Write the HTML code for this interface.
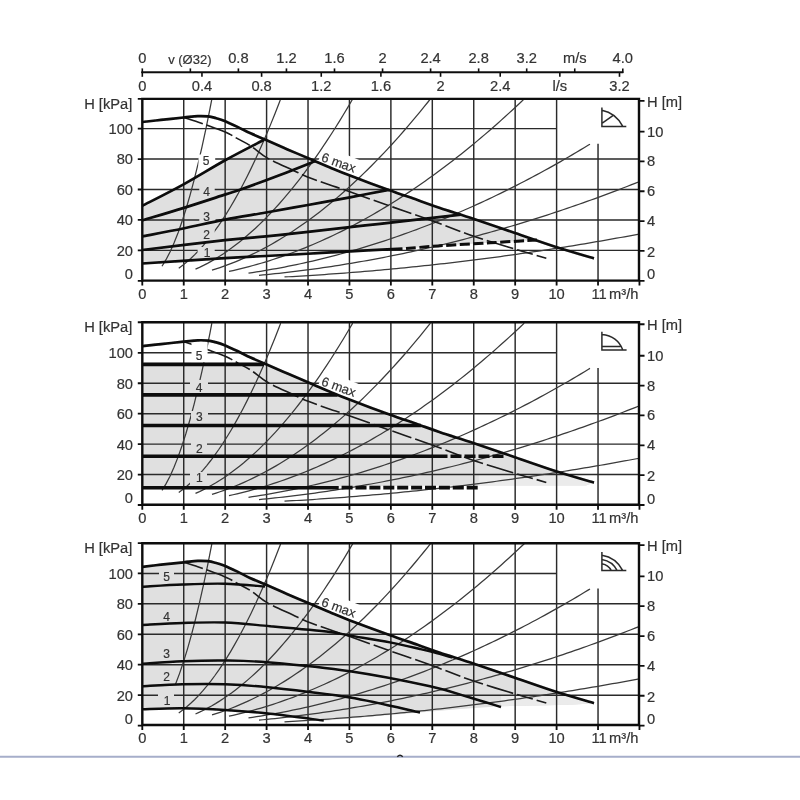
<!DOCTYPE html>
<html><head><meta charset="utf-8"><title>Pump curves</title>
<style>html,body{margin:0;padding:0;background:#fff;}body{width:800px;height:800px;overflow:hidden;}svg{display:block;}text{font-family:"Liberation Sans",sans-serif;fill:#333;stroke:#333;stroke-width:0.2px;}</style>
</head><body>
<svg width="800" height="800" viewBox="0 0 800 800">
<defs><filter id="soft" x="0" y="0" width="800" height="800" filterUnits="userSpaceOnUse"><feGaussianBlur stdDeviation="0.5"/></filter></defs>
<rect x="0" y="0" width="800" height="800" fill="#fff"/>
<g filter="url(#soft)">
<g id="topaxis">
<line x1="141.3" y1="72.3" x2="623.3" y2="72.3" stroke="#111" stroke-width="2"/>
<line x1="142.3" y1="68.4" x2="142.3" y2="73" stroke="#111" stroke-width="1.6"/>
<line x1="190.35" y1="68.4" x2="190.35" y2="73" stroke="#111" stroke-width="1.6"/>
<line x1="238.4" y1="68.4" x2="238.4" y2="73" stroke="#111" stroke-width="1.6"/>
<line x1="286.45" y1="68.4" x2="286.45" y2="73" stroke="#111" stroke-width="1.6"/>
<line x1="334.5" y1="68.4" x2="334.5" y2="73" stroke="#111" stroke-width="1.6"/>
<line x1="382.55" y1="68.4" x2="382.55" y2="73" stroke="#111" stroke-width="1.6"/>
<line x1="430.6" y1="68.4" x2="430.6" y2="73" stroke="#111" stroke-width="1.6"/>
<line x1="478.65" y1="68.4" x2="478.65" y2="73" stroke="#111" stroke-width="1.6"/>
<line x1="526.7" y1="68.4" x2="526.7" y2="73" stroke="#111" stroke-width="1.6"/>
<line x1="574.75" y1="68.4" x2="574.75" y2="73" stroke="#111" stroke-width="1.6"/>
<line x1="622.8" y1="68.4" x2="622.8" y2="73" stroke="#111" stroke-width="1.6"/>
<line x1="142.3" y1="72" x2="142.3" y2="76.8" stroke="#111" stroke-width="1.6"/>
<line x1="201.95" y1="72" x2="201.95" y2="76.8" stroke="#111" stroke-width="1.6"/>
<line x1="261.6" y1="72" x2="261.6" y2="76.8" stroke="#111" stroke-width="1.6"/>
<line x1="321.25" y1="72" x2="321.25" y2="76.8" stroke="#111" stroke-width="1.6"/>
<line x1="380.9" y1="72" x2="380.9" y2="76.8" stroke="#111" stroke-width="1.6"/>
<line x1="440.55" y1="72" x2="440.55" y2="76.8" stroke="#111" stroke-width="1.6"/>
<line x1="500.2" y1="72" x2="500.2" y2="76.8" stroke="#111" stroke-width="1.6"/>
<line x1="559.85" y1="72" x2="559.85" y2="76.8" stroke="#111" stroke-width="1.6"/>
<line x1="619.5" y1="72" x2="619.5" y2="76.8" stroke="#111" stroke-width="1.6"/>
<text x="142.3" y="63.4" font-size="14.7" text-anchor="middle">0</text>
<text x="189.85" y="63.6" font-size="13" text-anchor="middle">v (&#216;32)</text>
<text x="238.4" y="63.4" font-size="14.7" text-anchor="middle">0.8</text>
<text x="286.45" y="63.4" font-size="14.7" text-anchor="middle">1.2</text>
<text x="334.5" y="63.4" font-size="14.7" text-anchor="middle">1.6</text>
<text x="382.55" y="63.4" font-size="14.7" text-anchor="middle">2</text>
<text x="430.6" y="63.4" font-size="14.7" text-anchor="middle">2.4</text>
<text x="478.65" y="63.4" font-size="14.7" text-anchor="middle">2.8</text>
<text x="526.7" y="63.4" font-size="14.7" text-anchor="middle">3.2</text>
<text x="574.75" y="63.4" font-size="14.7" text-anchor="middle">m/s</text>
<text x="622.8" y="63.4" font-size="14.7" text-anchor="middle">4.0</text>
<text x="142.3" y="90.6" font-size="14.7" text-anchor="middle">0</text>
<text x="201.95" y="90.6" font-size="14.7" text-anchor="middle">0.4</text>
<text x="261.6" y="90.6" font-size="14.7" text-anchor="middle">0.8</text>
<text x="321.25" y="90.6" font-size="14.7" text-anchor="middle">1.2</text>
<text x="380.9" y="90.6" font-size="14.7" text-anchor="middle">1.6</text>
<text x="440.55" y="90.6" font-size="14.7" text-anchor="middle">2</text>
<text x="500.2" y="90.6" font-size="14.7" text-anchor="middle">2.4</text>
<text x="559.85" y="90.6" font-size="14.7" text-anchor="middle">l/s</text>
<text x="619.5" y="90.6" font-size="14.7" text-anchor="middle">3.2</text>
</g>
<g id="chart1">
<polygon points="142.3,205.8 144.27,204.79 146.72,203.53 149.59,202.07 152.81,200.43 156.32,198.64 160.04,196.74 163.91,194.75 167.86,192.7 171.82,190.64 175.73,188.58 179.51,186.55 183.1,184.6 186.6,182.65 190.14,180.64 193.71,178.58 197.3,176.48 200.91,174.36 204.52,172.22 208.11,170.1 211.69,167.99 215.24,165.91 218.75,163.87 222.21,161.9 225.6,160 229.05,158.11 232.65,156.17 236.34,154.21 240.05,152.25 243.74,150.33 247.33,148.46 250.78,146.68 254.02,145.01 257,143.49 259.65,142.12 261.92,140.95 263.75,140 265,139.5 266.6,140.2 268.29,140.94 270.04,141.71 271.85,142.51 273.72,143.34 275.62,144.19 277.57,145.05 279.54,145.92 281.52,146.79 283.52,147.67 285.51,148.54 287.5,149.4 289.52,150.27 291.61,151.16 293.75,152.07 295.93,153 298.12,153.92 300.31,154.85 302.49,155.77 304.63,156.67 306.72,157.55 308.74,158.4 310.67,159.22 312.5,160 314.21,160.73 315.82,161.42 317.34,162.08 318.8,162.71 320.2,163.31 321.56,163.91 322.91,164.49 324.26,165.07 325.62,165.66 327.03,166.25 328.48,166.86 330,167.5 331.52,168.13 332.97,168.74 334.38,169.34 335.79,169.92 337.21,170.51 338.67,171.12 340.21,171.75 341.85,172.41 343.62,173.12 345.55,173.88 347.67,174.7 350,175.6 352.6,176.59 355.49,177.69 358.6,178.86 361.9,180.1 365.32,181.38 368.83,182.68 372.36,183.99 375.88,185.29 379.33,186.56 382.65,187.78 385.81,188.93 388.75,190 391.52,190.99 394.19,191.94 396.79,192.86 399.31,193.73 401.75,194.58 404.14,195.4 406.47,196.2 408.75,196.98 410.99,197.74 413.19,198.5 415.35,199.25 417.5,200 419.56,200.73 421.48,201.41 423.29,202.07 425.04,202.7 426.74,203.32 428.42,203.94 430.13,204.56 431.88,205.19 433.71,205.84 435.66,206.52 437.74,207.23 440,208 442.41,208.8 444.92,209.62 447.53,210.47 450.22,211.33 453,212.22 455.84,213.12 458.75,214.05 461.72,215 464.74,215.97 467.8,216.96 470.88,217.97 474,219 477.17,220.06 480.43,221.16 483.76,222.29 487.15,223.44 490.59,224.62 494.06,225.81 497.56,227.01 501.07,228.22 504.59,229.43 508.09,230.63 511.56,231.82 515,233 518.43,234.17 521.87,235.36 525.32,236.56 528.78,237.76 532.24,238.96 535.69,240.16 537,240 534.74,240.13 531.92,240.3 528.62,240.5 524.93,240.72 520.9,240.96 516.62,241.21 512.18,241.48 507.63,241.75 503.06,242.02 498.55,242.29 494.17,242.55 490,242.8 485.9,243.04 481.7,243.29 477.42,243.54 473.09,243.79 468.75,244.05 464.41,244.3 460.1,244.55 455.85,244.81 451.69,245.06 447.64,245.31 443.74,245.56 440,245.8 436.49,246.04 433.2,246.28 430.1,246.52 427.13,246.75 424.25,246.99 421.41,247.22 418.56,247.45 415.65,247.68 412.64,247.91 409.47,248.14 406.11,248.37 402.5,248.6 398.62,248.83 394.5,249.06 390.18,249.29 385.72,249.52 381.16,249.74 376.53,249.97 371.89,250.2 367.28,250.42 362.74,250.64 358.32,250.87 354.06,251.08 350,251.3 346.13,251.51 342.39,251.73 338.76,251.93 335.22,252.14 331.76,252.35 328.34,252.55 324.97,252.76 321.61,252.96 318.25,253.16 314.88,253.36 311.47,253.55 308,253.75 304.5,253.94 300.99,254.14 297.48,254.33 293.96,254.52 290.45,254.71 286.94,254.9 283.43,255.08 279.93,255.27 276.43,255.45 272.94,255.64 269.46,255.82 266,256 262.68,256.17 259.59,256.32 256.66,256.46 253.8,256.59 250.96,256.72 248.04,256.85 244.99,257 241.72,257.16 238.16,257.35 234.23,257.56 229.87,257.81 225,258.1 219.31,258.45 212.67,258.87 205.32,259.34 197.46,259.86 189.31,260.39 181.09,260.93 173.01,261.47 165.29,261.98 158.14,262.45 151.78,262.87 146.43,263.23 142.3,263.5" fill="#e0e0e0"/>
<path d="M183.73 98.9 V280.6 M225.16 98.9 V280.6 M266.59 98.9 V280.6 M308.02 98.9 V280.6 M349.45 98.9 V280.6 M390.88 98.9 V280.6 M432.31 98.9 V280.6 M473.74 98.9 V280.6 M515.17 98.9 V280.6 M556.6 98.9 V280.6 M598.03 143.75 V280.6 M142.3 250.36 H639 M142.3 219.92 H639 M142.3 189.48 H639 M142.3 159.04 H639 M142.3 128.6 H556.6" stroke="#2a2a2a" stroke-width="1.45" fill="none"/>
<polyline points="162,266.22 166,259.69 170,251.97 174,243.04 178,232.91 182,221.57 186,209.04 190,195.3 194,180.36 198,164.22 202,146.87 206,128.32 210,108.57 211.87,98.9" stroke="#3a3a3a" stroke-width="1.25" fill="none"/>
<polyline points="178.75,268.18 182.75,265.26 186.75,262.04 190.75,258.51 194.75,254.68 198.75,250.54 202.75,246.1 206.75,241.35 210.75,236.31 214.75,230.95 218.75,225.3 222.75,219.34 226.75,213.07 230.75,206.51 234.75,199.63 238.75,192.46 242.75,184.98 246.75,177.2 250.75,169.11 254.75,160.72 258.75,152.02 262.75,143.02 266.75,133.72 270.75,124.12 274.75,114.21 278.75,103.99 280.7,98.9" stroke="#3a3a3a" stroke-width="1.25" fill="none"/>
<polyline points="195.5,269.18 199.5,267.36 203.5,265.42 207.5,263.34 211.5,261.13 215.5,258.79 219.5,256.32 223.5,253.72 227.5,250.98 231.5,248.12 235.5,245.12 239.5,241.99 243.5,238.74 247.5,235.34 251.5,231.82 255.5,228.17 259.5,224.38 263.5,220.47 267.5,216.42 271.5,212.24 275.5,207.93 279.5,203.48 283.5,198.91 287.5,194.21 291.5,189.37 295.5,184.4 299.5,179.3 303.5,174.07 307.5,168.71 311.5,163.21 315.5,157.59 319.5,151.83 323.5,145.94 327.5,139.92 331.5,133.77 335.5,127.49 339.5,121.07 343.5,114.53 347.5,107.85 351.5,101.04 352.74,98.9" stroke="#3a3a3a" stroke-width="1.25" fill="none"/>
<polyline points="212,270.16 216,268.9 220,267.57 224,266.18 228,264.71 232,263.17 236,261.57 240,259.89 244,258.14 248,256.33 252,254.44 256,252.48 260,250.45 264,248.36 268,246.19 272,243.95 276,241.64 280,239.26 284,236.82 288,234.3 292,231.71 296,229.05 300,226.32 304,223.52 308,220.65 312,217.72 316,214.71 320,211.63 324,208.48 328,205.26 332,201.97 336,198.61 340,195.18 344,191.68 348,188.11 352,184.47 356,180.76 360,176.98 364,173.13 368,169.21 372,165.22 376,161.16 380,157.03 384,152.83 388,148.56 392,144.22 396,139.81 400,135.33 404,130.77 408,126.15 412,121.46 416,116.7 420,111.87 424,106.97 428,102 430.46,98.9" stroke="#3a3a3a" stroke-width="1.25" fill="none"/>
<polyline points="229,271.43 233,270.54 237,269.62 241,268.65 245,267.65 249,266.61 253,265.52 257,264.4 261,263.23 265,262.03 269,260.79 273,259.5 277,258.18 281,256.82 285,255.41 289,253.97 293,252.49 297,250.96 301,249.4 305,247.8 309,246.15 313,244.47 317,242.75 321,240.99 325,239.18 329,237.34 333,235.46 337,233.54 341,231.58 345,229.57 349,227.53 353,225.45 357,223.33 361,221.17 365,218.97 369,216.73 373,214.44 377,212.12 381,209.76 385,207.36 389,204.92 393,202.44 397,199.92 401,197.36 405,194.76 409,192.12 413,189.44 417,186.72 421,183.96 425,181.16 429,178.32 433,175.44 437,172.52 441,169.56 445,166.56 449,163.52 453,160.44 457,157.33 461,154.17 465,150.97 469,147.73 473,144.45 477,141.13 481,137.77 485,134.38 489,130.94 493,127.46 497,123.94 501,120.38 505,116.79 509,113.15 513,109.47 517,105.75 521,102 524.27,98.9" stroke="#3a3a3a" stroke-width="1.25" fill="none"/>
<polyline points="248.5,273.11 252.5,272.52 256.5,271.91 260.5,271.28 264.5,270.62 268.5,269.94 272.5,269.24 276.5,268.52 280.5,267.78 284.5,267.02 288.5,266.23 292.5,265.42 296.5,264.59 300.5,263.74 304.5,262.87 308.5,261.97 312.5,261.05 316.5,260.12 320.5,259.15 324.5,258.17 328.5,257.17 332.5,256.14 336.5,255.09 340.5,254.02 344.5,252.93 348.5,251.82 352.5,250.68 356.5,249.53 360.5,248.35 364.5,247.15 368.5,245.92 372.5,244.68 376.5,243.41 380.5,242.12 384.5,240.81 388.5,239.48 392.5,238.13 396.5,236.75 400.5,235.36 404.5,233.94 408.5,232.5 412.5,231.03 416.5,229.55 420.5,228.04 424.5,226.52 428.5,224.97 432.5,223.39 436.5,221.8 440.5,220.19 444.5,218.55 448.5,216.89 452.5,215.21 456.5,213.51 460.5,211.78 464.5,210.04 468.5,208.27 472.5,206.48 476.5,204.67 480.5,202.83 484.5,200.98 488.5,199.1 492.5,197.2 496.5,195.28 500.5,193.34 504.5,191.38 508.5,189.39 512.5,187.38 516.5,185.35 520.5,183.3 524.5,181.23 528.5,179.13 532.5,177.02 536.5,174.88 540.5,172.72 544.5,170.53 548.5,168.33 552.5,166.1 556.5,163.86 560.5,161.59 564.5,159.3 568.5,156.98 572.5,154.65 576.5,152.29 580.5,149.91 584.5,147.51 588.5,145.09 590,144.17" stroke="#3a3a3a" stroke-width="1.25" fill="none"/>
<polyline points="259,275.33 263,274.95 267,274.56 271,274.15 275,273.73 279,273.3 283,272.85 287,272.4 291,271.92 295,271.44 299,270.94 303,270.43 307,269.91 311,269.38 315,268.83 319,268.27 323,267.69 327,267.11 331,266.51 335,265.89 339,265.27 343,264.63 347,263.98 351,263.32 355,262.64 359,261.95 363,261.25 367,260.53 371,259.8 375,259.06 379,258.31 383,257.54 387,256.76 391,255.97 395,255.17 399,254.35 403,253.52 407,252.67 411,251.82 415,250.95 419,250.07 423,249.17 427,248.26 431,247.34 435,246.41 439,245.46 443,244.5 447,243.53 451,242.55 455,241.55 459,240.54 463,239.52 467,238.48 471,237.43 475,236.37 479,235.29 483,234.21 487,233.11 491,231.99 495,230.87 499,229.73 503,228.57 507,227.41 511,226.23 515,225.04 519,223.84 523,222.62 527,221.39 531,220.15 535,218.9 539,217.63 543,216.35 547,215.06 551,213.75 555,212.43 559,211.1 563,209.75 567,208.4 571,207.03 575,205.64 579,204.25 583,202.84 587,201.42 591,199.98 595,198.54 599,197.08 603,195.6 607,194.12 611,192.62 615,191.11 619,189.58 623,188.04 627,186.49 631,184.93 635,183.36 639,181.77" stroke="#3a3a3a" stroke-width="1.25" fill="none"/>
<polyline points="284.5,276.97 288.5,276.75 292.5,276.53 296.5,276.3 300.5,276.06 304.5,275.82 308.5,275.57 312.5,275.32 316.5,275.05 320.5,274.79 324.5,274.51 328.5,274.24 332.5,273.95 336.5,273.66 340.5,273.36 344.5,273.06 348.5,272.75 352.5,272.43 356.5,272.11 360.5,271.79 364.5,271.45 368.5,271.11 372.5,270.77 376.5,270.41 380.5,270.06 384.5,269.69 388.5,269.32 392.5,268.95 396.5,268.56 400.5,268.18 404.5,267.78 408.5,267.38 412.5,266.98 416.5,266.56 420.5,266.15 424.5,265.72 428.5,265.29 432.5,264.85 436.5,264.41 440.5,263.96 444.5,263.51 448.5,263.05 452.5,262.58 456.5,262.11 460.5,261.63 464.5,261.14 468.5,260.65 472.5,260.16 476.5,259.65 480.5,259.14 484.5,258.63 488.5,258.11 492.5,257.58 496.5,257.05 500.5,256.51 504.5,255.96 508.5,255.41 512.5,254.85 516.5,254.29 520.5,253.72 524.5,253.14 528.5,252.56 532.5,251.97 536.5,251.38 540.5,250.78 544.5,250.17 548.5,249.56 552.5,248.94 556.5,248.32 560.5,247.69 564.5,247.05 568.5,246.41 572.5,245.76 576.5,245.1 580.5,244.44 584.5,243.78 588.5,243.1 592.5,242.42 596.5,241.74 600.5,241.05 604.5,240.35 608.5,239.65 612.5,238.94 616.5,238.22 620.5,237.5 624.5,236.77 628.5,236.04 632.5,235.3 636.5,234.56 639,234.09" stroke="#3a3a3a" stroke-width="1.25" fill="none"/>
<path d="M183.75 117.5 C186.08 118.23 193.38 120.44 197.75 121.9 C202.12 123.36 205.62 124.63 210 126.25 C214.38 127.87 220.67 130.24 224 131.6 C227.33 132.96 227.67 133.18 230 134.4 C232.33 135.62 234.46 136.93 238 138.9 C241.54 140.88 246.33 143.05 251.25 146.25 C256.17 149.45 260.62 154.14 267.5 158.1 C274.38 162.06 285.83 166.87 292.5 170 C299.17 173.13 301.25 174.4 307.5 176.9 C313.75 179.4 323.75 182.82 330 185 C336.25 187.18 335.5 186.67 345 190 C354.5 193.33 372.83 200 387 205 C401.17 210 416.17 215 430 220 C443.83 225 457 230.5 470 235 C483 239.5 495.28 243.13 508 247 C520.72 250.87 539.92 256.33 546.3 258.2" stroke="#1a1a1a" stroke-width="1.6" fill="none" stroke-dasharray="20 4 28 4 16 4"/>
<rect x="198.5" y="154.5" width="16.7" height="13.5" fill="#fff"/>
<rect x="199.3" y="185" width="15.4" height="13.2" fill="#e0e0e0"/>
<rect x="199.3" y="210" width="16.2" height="12.5" fill="#e0e0e0"/>
<rect x="199" y="228.6" width="15.7" height="13.2" fill="#e0e0e0"/>
<rect x="197.6" y="247" width="17.1" height="13" fill="#e0e0e0"/>
<path d="M142.3 205.8 C149.1 202.27 169.22 192.23 183.1 184.6 C196.98 176.97 212.16 167.43 225.6 160 C239.04 152.57 257.39 143.33 263.75 140" stroke="#0a0a0a" fill="none" stroke-linecap="butt" stroke-width="2.7"/>
<path d="M142.3 220.4 C149.1 218.35 169.22 212.43 183.1 208.1 C196.98 203.77 216.12 197.46 225.6 194.4 C235.08 191.34 230.93 192.98 240 189.75 C249.07 186.52 267.33 179.83 280 175 C292.67 170.17 310 163.12 316 160.75" stroke="#0a0a0a" fill="none" stroke-linecap="butt" stroke-width="2.7"/>
<path d="M142.3 236.4 C149.1 235.08 169.32 231.3 183.1 228.5 C196.88 225.7 211.18 222.27 225 219.6 C238.82 216.93 252.17 214.93 266 212.5 C279.83 210.07 294 207.53 308 205 C322 202.47 336.54 199.82 350 197.3 C363.46 194.78 382.29 191.13 388.75 189.9" stroke="#0a0a0a" fill="none" stroke-linecap="butt" stroke-width="2.7"/>
<path d="M142.3 250 C156.08 248.37 204.38 242.48 225 240.2 C245.62 237.92 252.17 237.68 266 236.3 C279.83 234.92 289 233.98 308 231.9 C327 229.82 354.5 226.68 380 223.8 C405.5 220.92 447.5 216.13 461 214.6" stroke="#0a0a0a" fill="none" stroke-linecap="butt" stroke-width="2.7"/>
<path d="M142.3 263.5 C156.08 262.6 204.38 259.35 225 258.1 C245.62 256.85 252.17 256.73 266 256 C279.83 255.28 294 254.53 308 253.75 C322 252.97 334.25 252.16 350 251.3 C365.75 250.44 393.75 249.05 402.5 248.6" stroke="#0a0a0a" fill="none" stroke-linecap="butt" stroke-width="2.7"/>
<path d="M406 248.5 C411.67 248.05 426 246.75 440 245.8 C454 244.85 473.83 243.77 490 242.8 C506.17 241.83 529.17 240.47 537 240" stroke="#0a0a0a" fill="none" stroke-linecap="butt" stroke-width="3" stroke-dasharray="10 3.5"/>
<g transform="translate(318,161.6) rotate(22)"><rect x="0" y="-17" width="41" height="17.5" fill="#fff"/></g>
<path d="M142.3 122 C145.42 121.65 154.09 120.65 161 119.9 C167.91 119.15 177.62 118.13 183.75 117.5 C189.88 116.87 193.67 116.28 197.75 116.1 C201.83 115.92 205.33 116.1 208.25 116.4 C211.17 116.7 212.62 117.18 215.25 117.9 C217.88 118.62 220.21 119.17 224 120.7 C227.79 122.23 233.67 125.03 238 127.1 C242.33 129.17 245.5 131.03 250 133.1 C254.5 135.17 258.75 136.78 265 139.5 C271.25 142.22 279.58 145.98 287.5 149.4 C295.42 152.82 305.42 156.98 312.5 160 C319.58 163.02 323.75 164.9 330 167.5 C336.25 170.1 340.21 171.85 350 175.6 C359.79 179.35 377.5 185.93 388.75 190 C400 194.07 408.96 197 417.5 200 C426.04 203 430.58 204.83 440 208 C449.42 211.17 461.5 214.83 474 219 C486.5 223.17 501.33 228.33 515 233 C528.67 237.67 542.83 242.77 556 247 C569.17 251.23 587.67 256.5 594 258.4" stroke="#0a0a0a" fill="none" stroke-linecap="butt" stroke-width="2.7"/>
<g transform="translate(320.5,160.7) rotate(20)"><text x="0" y="0" font-size="13" text-anchor="start" stroke="#333" stroke-width="0.25">6 max</text></g>
<text x="206.1" y="165.3" font-size="12" text-anchor="middle" fill="#2a2a2a" stroke="#2a2a2a" stroke-width="0.5">5</text>
<text x="206.6" y="195.6" font-size="12" text-anchor="middle" fill="#2a2a2a" stroke="#2a2a2a" stroke-width="0.5">4</text>
<text x="206.6" y="220.6" font-size="12" text-anchor="middle" fill="#2a2a2a" stroke="#2a2a2a" stroke-width="0.5">3</text>
<text x="206.6" y="239.2" font-size="12" text-anchor="middle" fill="#2a2a2a" stroke="#2a2a2a" stroke-width="0.5">2</text>
<text x="207" y="257.3" font-size="12" text-anchor="middle" fill="#2a2a2a" stroke="#2a2a2a" stroke-width="0.5">1</text>
<path d="M142.3 98.9 H639 V280.6 H142.3 Z" stroke="#0a0a0a" stroke-width="2.4" fill="none"/>
<path d="M137.8 98.9 H142.3 M137.8 280.8 H142.3 M137.8 250.36 H142.3 M137.8 219.92 H142.3 M137.8 189.48 H142.3 M137.8 159.04 H142.3 M137.8 128.6 H142.3 M639 100.9 H644.5 M639 280.8 H644.5 M639 250.95 H644.5 M639 221.09 H644.5 M639 191.24 H644.5 M639 161.39 H644.5 M639 131.54 H644.5 M142.3 280.6 V285.6 M183.73 280.6 V285.6 M225.16 280.6 V285.6 M266.59 280.6 V285.6 M308.02 280.6 V285.6 M349.45 280.6 V285.6 M390.88 280.6 V285.6 M432.31 280.6 V285.6 M473.74 280.6 V285.6 M515.17 280.6 V285.6 M556.6 280.6 V285.6 M598.03 280.6 V285.6 M639.46 280.6 V285.6" stroke="#0a0a0a" stroke-width="1.8" fill="none"/>
<text x="132.3" y="108.8" font-size="14.7" text-anchor="end">H [kPa]</text>
<text x="133" y="255.76" font-size="14.7" text-anchor="end">20</text>
<text x="133" y="225.32" font-size="14.7" text-anchor="end">40</text>
<text x="133" y="194.88" font-size="14.7" text-anchor="end">60</text>
<text x="133" y="164.44" font-size="14.7" text-anchor="end">80</text>
<text x="133" y="134" font-size="14.7" text-anchor="end">100</text>
<text x="133" y="279.1" font-size="14.7" text-anchor="end">0</text>
<text x="647" y="106.9" font-size="14.7" text-anchor="start">H [m]</text>
<text x="647" y="257.15" font-size="14.7" text-anchor="start">2</text>
<text x="647" y="226.09" font-size="14.7" text-anchor="start">4</text>
<text x="647" y="196.24" font-size="14.7" text-anchor="start">6</text>
<text x="647" y="166.39" font-size="14.7" text-anchor="start">8</text>
<text x="647" y="136.54" font-size="14.7" text-anchor="start">10</text>
<text x="647" y="279.4" font-size="14.7" text-anchor="start">0</text>
<text x="142.3" y="298.7" font-size="14.7" text-anchor="middle">0</text>
<text x="183.73" y="298.7" font-size="14.7" text-anchor="middle">1</text>
<text x="225.16" y="298.7" font-size="14.7" text-anchor="middle">2</text>
<text x="266.59" y="298.7" font-size="14.7" text-anchor="middle">3</text>
<text x="308.02" y="298.7" font-size="14.7" text-anchor="middle">4</text>
<text x="349.45" y="298.7" font-size="14.7" text-anchor="middle">5</text>
<text x="390.88" y="298.7" font-size="14.7" text-anchor="middle">6</text>
<text x="432.31" y="298.7" font-size="14.7" text-anchor="middle">7</text>
<text x="473.74" y="298.7" font-size="14.7" text-anchor="middle">8</text>
<text x="515.17" y="298.7" font-size="14.7" text-anchor="middle">9</text>
<text x="556.6" y="298.7" font-size="14.7" text-anchor="middle">10</text>
<text x="591.5" y="298.7" font-size="14.7" text-anchor="start">11</text>
<text x="609" y="298.7" font-size="14.7" text-anchor="start">m&#179;/h</text>
<path d="M601.9 107.4 V126.4 H626.3 M601.9 110.3 Q615.5 112.8 622.8 126.4 M601.9 123.4 L613.6 115.2" stroke="#2a2a2a" stroke-width="1.5" fill="none"/>
</g>
<g id="chart2">
<polygon points="142.3,364.4 262,364.4 262.03,362.43 263.48,363.04 265,363.7 266.6,364.4 268.29,365.14 270.04,365.91 271.85,366.71 273.72,367.54 275.62,368.39 277.57,369.25 279.54,370.12 281.52,370.99 283.52,371.87 285.51,372.74 287.5,373.6 289.52,374.47 291.61,375.36 293.75,376.27 295.93,377.2 298.12,378.12 300.31,379.05 302.49,379.97 304.63,380.87 306.72,381.75 308.74,382.6 310.67,383.42 312.5,384.2 314.21,384.93 315.82,385.62 317.34,386.28 318.8,386.91 320.2,387.51 321.56,388.11 322.91,388.69 324.26,389.27 325.62,389.86 327.03,390.45 328.48,391.06 330,391.7 331.52,392.33 332.97,392.94 334.38,393.54 335.79,394.12 337.21,394.71 338.67,395.32 340.21,395.95 341.85,396.61 343.62,397.32 345.55,398.08 347.67,398.9 350,399.8 352.6,400.79 355.49,401.89 358.6,403.06 361.9,404.3 365.32,405.58 368.83,406.88 372.36,408.19 375.88,409.49 379.33,410.76 382.65,411.98 385.81,413.13 388.75,414.2 391.52,415.19 394.19,416.14 396.79,417.06 399.31,417.93 401.75,418.78 404.14,419.6 406.47,420.4 408.75,421.18 410.99,421.94 413.19,422.7 415.35,423.45 417.5,424.2 419.56,424.93 421.48,425.61 423.29,426.27 425.04,426.9 426.74,427.52 428.42,428.14 430.13,428.76 431.88,429.39 433.71,430.04 435.66,430.72 437.74,431.43 440,432.2 442.41,433 444.92,433.82 447.53,434.67 450.22,435.53 453,436.42 455.84,437.32 458.75,438.25 461.72,439.2 464.74,440.17 467.8,441.16 470.88,442.17 474,443.2 477.17,444.26 480.43,445.36 483.76,446.49 487.15,447.64 490.59,448.82 494.06,450.01 497.56,451.21 501.07,452.42 504.59,453.63 508.09,454.83 511.56,456.02 515,457.2 518.43,458.37 521.87,459.56 525.32,460.76 528.78,461.96 532.24,463.16 535.69,464.36 539.13,465.55 542.56,466.73 545.96,467.88 549.34,469.02 552.69,470.12 556,471.2 559.39,472.28 562.95,473.38 566.6,474.5 570.3,475.61 573.97,476.71 577.56,477.77 581.01,478.79 584.26,479.74 587.24,480.61 589.9,481.39 592.17,482.06 594,482.6 586,485.4 470,485.4 142.3,487.7" fill="#e0e0e0"/>
<polygon points="478.7,474.8 567.5,474.8 594,482.6 586,485.4 478.7,485.4" fill="#ebebeb"/>
<path d="M183.73 322.25 V504.75 M225.16 322.25 V504.75 M266.59 322.25 V504.75 M308.02 322.25 V504.75 M349.45 322.25 V504.75 M390.88 322.25 V504.75 M432.31 322.25 V504.75 M473.74 322.25 V504.75 M515.17 322.25 V504.75 M556.6 322.25 V504.75 M598.03 367.95 V504.75 M142.3 474.56 H639 M142.3 444.12 H639 M142.3 413.68 H639 M142.3 383.24 H639 M142.3 352.8 H556.6" stroke="#2a2a2a" stroke-width="1.45" fill="none"/>
<polyline points="162,490.42 166,483.89 170,476.17 174,467.24 178,457.11 182,445.77 186,433.24 190,419.5 194,404.56 198,388.42 202,371.07 206,352.52 210,332.77 211.87,323.1" stroke="#3a3a3a" stroke-width="1.25" fill="none"/>
<polyline points="178.75,492.38 182.75,489.46 186.75,486.24 190.75,482.71 194.75,478.88 198.75,474.74 202.75,470.3 206.75,465.55 210.75,460.51 214.75,455.15 218.75,449.5 222.75,443.54 226.75,437.27 230.75,430.71 234.75,423.83 238.75,416.66 242.75,409.18 246.75,401.4 250.75,393.31 254.75,384.92 258.75,376.22 262.75,367.22 266.75,357.92 270.75,348.32 274.75,338.41 278.75,328.19 280.7,323.1" stroke="#3a3a3a" stroke-width="1.25" fill="none"/>
<polyline points="195.5,493.38 199.5,491.56 203.5,489.62 207.5,487.54 211.5,485.33 215.5,482.99 219.5,480.52 223.5,477.92 227.5,475.18 231.5,472.32 235.5,469.32 239.5,466.19 243.5,462.94 247.5,459.54 251.5,456.02 255.5,452.37 259.5,448.58 263.5,444.67 267.5,440.62 271.5,436.44 275.5,432.13 279.5,427.68 283.5,423.11 287.5,418.41 291.5,413.57 295.5,408.6 299.5,403.5 303.5,398.27 307.5,392.91 311.5,387.41 315.5,381.79 319.5,376.03 323.5,370.14 327.5,364.12 331.5,357.97 335.5,351.69 339.5,345.27 343.5,338.73 347.5,332.05 351.5,325.24 352.74,323.1" stroke="#3a3a3a" stroke-width="1.25" fill="none"/>
<polyline points="212,494.36 216,493.1 220,491.77 224,490.38 228,488.91 232,487.37 236,485.77 240,484.09 244,482.34 248,480.53 252,478.64 256,476.68 260,474.65 264,472.56 268,470.39 272,468.15 276,465.84 280,463.46 284,461.02 288,458.5 292,455.91 296,453.25 300,450.52 304,447.72 308,444.85 312,441.92 316,438.91 320,435.83 324,432.68 328,429.46 332,426.17 336,422.81 340,419.38 344,415.88 348,412.31 352,408.67 356,404.96 360,401.18 364,397.33 368,393.41 372,389.42 376,385.36 380,381.23 384,377.03 388,372.76 392,368.42 396,364.01 400,359.53 404,354.97 408,350.35 412,345.66 416,340.9 420,336.07 424,331.17 428,326.2 430.46,323.1" stroke="#3a3a3a" stroke-width="1.25" fill="none"/>
<polyline points="229,495.63 233,494.74 237,493.82 241,492.85 245,491.85 249,490.81 253,489.72 257,488.6 261,487.43 265,486.23 269,484.99 273,483.7 277,482.38 281,481.02 285,479.61 289,478.17 293,476.69 297,475.16 301,473.6 305,472 309,470.35 313,468.67 317,466.95 321,465.19 325,463.38 329,461.54 333,459.66 337,457.74 341,455.78 345,453.77 349,451.73 353,449.65 357,447.53 361,445.37 365,443.17 369,440.93 373,438.64 377,436.32 381,433.96 385,431.56 389,429.12 393,426.64 397,424.12 401,421.56 405,418.96 409,416.32 413,413.64 417,410.92 421,408.16 425,405.36 429,402.52 433,399.64 437,396.72 441,393.76 445,390.76 449,387.72 453,384.64 457,381.53 461,378.37 465,375.17 469,371.93 473,368.65 477,365.33 481,361.97 485,358.58 489,355.14 493,351.66 497,348.14 501,344.58 505,340.99 509,337.35 513,333.67 517,329.95 521,326.2 524.27,323.1" stroke="#3a3a3a" stroke-width="1.25" fill="none"/>
<polyline points="248.5,497.31 252.5,496.72 256.5,496.11 260.5,495.48 264.5,494.82 268.5,494.14 272.5,493.44 276.5,492.72 280.5,491.98 284.5,491.22 288.5,490.43 292.5,489.62 296.5,488.79 300.5,487.94 304.5,487.07 308.5,486.17 312.5,485.25 316.5,484.32 320.5,483.35 324.5,482.37 328.5,481.37 332.5,480.34 336.5,479.29 340.5,478.22 344.5,477.13 348.5,476.02 352.5,474.88 356.5,473.73 360.5,472.55 364.5,471.35 368.5,470.12 372.5,468.88 376.5,467.61 380.5,466.32 384.5,465.01 388.5,463.68 392.5,462.33 396.5,460.95 400.5,459.56 404.5,458.14 408.5,456.7 412.5,455.23 416.5,453.75 420.5,452.24 424.5,450.72 428.5,449.17 432.5,447.59 436.5,446 440.5,444.39 444.5,442.75 448.5,441.09 452.5,439.41 456.5,437.71 460.5,435.98 464.5,434.24 468.5,432.47 472.5,430.68 476.5,428.87 480.5,427.03 484.5,425.18 488.5,423.3 492.5,421.4 496.5,419.48 500.5,417.54 504.5,415.58 508.5,413.59 512.5,411.58 516.5,409.55 520.5,407.5 524.5,405.43 528.5,403.33 532.5,401.22 536.5,399.08 540.5,396.92 544.5,394.73 548.5,392.53 552.5,390.3 556.5,388.06 560.5,385.79 564.5,383.5 568.5,381.18 572.5,378.85 576.5,376.49 580.5,374.11 584.5,371.71 588.5,369.29 590,368.37" stroke="#3a3a3a" stroke-width="1.25" fill="none"/>
<polyline points="259,499.53 263,499.15 267,498.76 271,498.35 275,497.93 279,497.5 283,497.05 287,496.6 291,496.12 295,495.64 299,495.14 303,494.63 307,494.11 311,493.58 315,493.03 319,492.47 323,491.89 327,491.31 331,490.71 335,490.09 339,489.47 343,488.83 347,488.18 351,487.52 355,486.84 359,486.15 363,485.45 367,484.73 371,484 375,483.26 379,482.51 383,481.74 387,480.96 391,480.17 395,479.37 399,478.55 403,477.72 407,476.87 411,476.02 415,475.15 419,474.27 423,473.37 427,472.46 431,471.54 435,470.61 439,469.66 443,468.7 447,467.73 451,466.75 455,465.75 459,464.74 463,463.72 467,462.68 471,461.63 475,460.57 479,459.49 483,458.41 487,457.31 491,456.19 495,455.07 499,453.93 503,452.77 507,451.61 511,450.43 515,449.24 519,448.04 523,446.82 527,445.59 531,444.35 535,443.1 539,441.83 543,440.55 547,439.26 551,437.95 555,436.63 559,435.3 563,433.95 567,432.6 571,431.23 575,429.84 579,428.45 583,427.04 587,425.62 591,424.18 595,422.74 599,421.28 603,419.8 607,418.32 611,416.82 615,415.31 619,413.78 623,412.24 627,410.69 631,409.13 635,407.56 639,405.97" stroke="#3a3a3a" stroke-width="1.25" fill="none"/>
<polyline points="284.5,501.17 288.5,500.95 292.5,500.73 296.5,500.5 300.5,500.26 304.5,500.02 308.5,499.77 312.5,499.52 316.5,499.25 320.5,498.99 324.5,498.71 328.5,498.44 332.5,498.15 336.5,497.86 340.5,497.56 344.5,497.26 348.5,496.95 352.5,496.63 356.5,496.31 360.5,495.99 364.5,495.65 368.5,495.31 372.5,494.97 376.5,494.61 380.5,494.26 384.5,493.89 388.5,493.52 392.5,493.15 396.5,492.76 400.5,492.38 404.5,491.98 408.5,491.58 412.5,491.18 416.5,490.76 420.5,490.35 424.5,489.92 428.5,489.49 432.5,489.05 436.5,488.61 440.5,488.16 444.5,487.71 448.5,487.25 452.5,486.78 456.5,486.31 460.5,485.83 464.5,485.34 468.5,484.85 472.5,484.36 476.5,483.85 480.5,483.34 484.5,482.83 488.5,482.31 492.5,481.78 496.5,481.25 500.5,480.71 504.5,480.16 508.5,479.61 512.5,479.05 516.5,478.49 520.5,477.92 524.5,477.34 528.5,476.76 532.5,476.17 536.5,475.58 540.5,474.98 544.5,474.37 548.5,473.76 552.5,473.14 556.5,472.52 560.5,471.89 564.5,471.25 568.5,470.61 572.5,469.96 576.5,469.3 580.5,468.64 584.5,467.98 588.5,467.3 592.5,466.62 596.5,465.94 600.5,465.25 604.5,464.55 608.5,463.85 612.5,463.14 616.5,462.42 620.5,461.7 624.5,460.97 628.5,460.24 632.5,459.5 636.5,458.76 639,458.29" stroke="#3a3a3a" stroke-width="1.25" fill="none"/>
<path d="M183.75 341.7 C186.08 342.43 193.38 344.64 197.75 346.1 C202.12 347.56 205.62 348.83 210 350.45 C214.38 352.07 220.67 354.44 224 355.8 C227.33 357.16 227.67 357.38 230 358.6 C232.33 359.82 234.46 361.12 238 363.1 C241.54 365.08 246.33 367.25 251.25 370.45 C256.17 373.65 260.62 378.34 267.5 382.3 C274.38 386.26 285.83 391.07 292.5 394.2 C299.17 397.33 301.25 398.6 307.5 401.1 C313.75 403.6 323.75 407.02 330 409.2 C336.25 411.38 335.5 410.87 345 414.2 C354.5 417.53 372.83 424.2 387 429.2 C401.17 434.2 416.17 439.2 430 444.2 C443.83 449.2 457 454.7 470 459.2 C483 463.7 495.28 467.33 508 471.2 C520.72 475.07 539.92 480.53 546.3 482.4" stroke="#1a1a1a" stroke-width="1.6" fill="none" stroke-dasharray="20 4 28 4 16 4"/>
<rect x="191.5" y="342.6" width="16.1" height="19.7" fill="#fff"/>
<rect x="190" y="380" width="18" height="14" fill="#e0e0e0"/>
<rect x="191" y="411" width="17" height="13" fill="#e0e0e0"/>
<rect x="191" y="442" width="16" height="13.5" fill="#e0e0e0"/>
<rect x="190" y="472" width="17" height="13.5" fill="#e0e0e0"/>
<path d="M142.3 364.4 H264" stroke="#0a0a0a" fill="none" stroke-linecap="butt" stroke-width="3.6"/>
<path d="M142.3 394.9 H337.5" stroke="#0a0a0a" fill="none" stroke-linecap="butt" stroke-width="3.6"/>
<path d="M142.3 425.5 H421" stroke="#0a0a0a" fill="none" stroke-linecap="butt" stroke-width="3.6"/>
<path d="M142.3 456.25 H447.5" stroke="#0a0a0a" fill="none" stroke-linecap="butt" stroke-width="3.6"/>
<path d="M142.3 487.7 H338.7" stroke="#0a0a0a" fill="none" stroke-linecap="butt" stroke-width="3.6"/>
<path d="M447.5 456.25 H505" stroke="#0a0a0a" fill="none" stroke-linecap="butt" stroke-width="3.4" stroke-dasharray="0 3 11 0"/>
<path d="M338.7 487.7 H478.7" stroke="#0a0a0a" fill="none" stroke-linecap="butt" stroke-width="3.8" stroke-dasharray="0 2.9 11 0"/>
<g transform="translate(318,385.8) rotate(22)"><rect x="0" y="-17" width="41" height="17.5" fill="#fff"/></g>
<path d="M142.3 346.2 C145.42 345.85 154.09 344.85 161 344.1 C167.91 343.35 177.62 342.33 183.75 341.7 C189.88 341.07 193.67 340.48 197.75 340.3 C201.83 340.12 205.33 340.3 208.25 340.6 C211.17 340.9 212.62 341.38 215.25 342.1 C217.88 342.82 220.21 343.37 224 344.9 C227.79 346.43 233.67 349.23 238 351.3 C242.33 353.37 245.5 355.23 250 357.3 C254.5 359.37 258.75 360.98 265 363.7 C271.25 366.42 279.58 370.18 287.5 373.6 C295.42 377.02 305.42 381.18 312.5 384.2 C319.58 387.22 323.75 389.1 330 391.7 C336.25 394.3 340.21 396.05 350 399.8 C359.79 403.55 377.5 410.13 388.75 414.2 C400 418.27 408.96 421.2 417.5 424.2 C426.04 427.2 430.58 429.03 440 432.2 C449.42 435.37 461.5 439.03 474 443.2 C486.5 447.37 501.33 452.53 515 457.2 C528.67 461.87 542.83 466.97 556 471.2 C569.17 475.43 587.67 480.7 594 482.6" stroke="#0a0a0a" fill="none" stroke-linecap="butt" stroke-width="2.7"/>
<g transform="translate(320.5,384.9) rotate(20)"><text x="0" y="0" font-size="13" text-anchor="start" stroke="#333" stroke-width="0.25">6 max</text></g>
<text x="199" y="360.4" font-size="12" text-anchor="middle" fill="#2a2a2a" stroke="#2a2a2a" stroke-width="0.5">5</text>
<text x="199" y="392" font-size="12" text-anchor="middle" fill="#2a2a2a" stroke="#2a2a2a" stroke-width="0.5">4</text>
<text x="199.4" y="421.2" font-size="12" text-anchor="middle" fill="#2a2a2a" stroke="#2a2a2a" stroke-width="0.5">3</text>
<text x="199.4" y="452.8" font-size="12" text-anchor="middle" fill="#2a2a2a" stroke="#2a2a2a" stroke-width="0.5">2</text>
<text x="199.4" y="482.4" font-size="12" text-anchor="middle" fill="#2a2a2a" stroke="#2a2a2a" stroke-width="0.5">1</text>
<path d="M142.3 322.25 H639 V504.75 H142.3 Z" stroke="#0a0a0a" stroke-width="2.4" fill="none"/>
<path d="M137.8 322.25 H142.3 M137.8 505 H142.3 M137.8 474.56 H142.3 M137.8 444.12 H142.3 M137.8 413.68 H142.3 M137.8 383.24 H142.3 M137.8 352.8 H142.3 M639 324.25 H644.5 M639 505 H644.5 M639 475.15 H644.5 M639 445.29 H644.5 M639 415.44 H644.5 M639 385.59 H644.5 M639 355.74 H644.5 M142.3 504.75 V509.75 M183.73 504.75 V509.75 M225.16 504.75 V509.75 M266.59 504.75 V509.75 M308.02 504.75 V509.75 M349.45 504.75 V509.75 M390.88 504.75 V509.75 M432.31 504.75 V509.75 M473.74 504.75 V509.75 M515.17 504.75 V509.75 M556.6 504.75 V509.75 M598.03 504.75 V509.75 M639.46 504.75 V509.75" stroke="#0a0a0a" stroke-width="1.8" fill="none"/>
<text x="132.3" y="332.15" font-size="14.7" text-anchor="end">H [kPa]</text>
<text x="133" y="479.96" font-size="14.7" text-anchor="end">20</text>
<text x="133" y="449.52" font-size="14.7" text-anchor="end">40</text>
<text x="133" y="419.08" font-size="14.7" text-anchor="end">60</text>
<text x="133" y="388.64" font-size="14.7" text-anchor="end">80</text>
<text x="133" y="358.2" font-size="14.7" text-anchor="end">100</text>
<text x="133" y="503.25" font-size="14.7" text-anchor="end">0</text>
<text x="647" y="330.25" font-size="14.7" text-anchor="start">H [m]</text>
<text x="647" y="481.35" font-size="14.7" text-anchor="start">2</text>
<text x="647" y="450.29" font-size="14.7" text-anchor="start">4</text>
<text x="647" y="420.44" font-size="14.7" text-anchor="start">6</text>
<text x="647" y="390.59" font-size="14.7" text-anchor="start">8</text>
<text x="647" y="360.74" font-size="14.7" text-anchor="start">10</text>
<text x="647" y="503.55" font-size="14.7" text-anchor="start">0</text>
<text x="142.3" y="522.85" font-size="14.7" text-anchor="middle">0</text>
<text x="183.73" y="522.85" font-size="14.7" text-anchor="middle">1</text>
<text x="225.16" y="522.85" font-size="14.7" text-anchor="middle">2</text>
<text x="266.59" y="522.85" font-size="14.7" text-anchor="middle">3</text>
<text x="308.02" y="522.85" font-size="14.7" text-anchor="middle">4</text>
<text x="349.45" y="522.85" font-size="14.7" text-anchor="middle">5</text>
<text x="390.88" y="522.85" font-size="14.7" text-anchor="middle">6</text>
<text x="432.31" y="522.85" font-size="14.7" text-anchor="middle">7</text>
<text x="473.74" y="522.85" font-size="14.7" text-anchor="middle">8</text>
<text x="515.17" y="522.85" font-size="14.7" text-anchor="middle">9</text>
<text x="556.6" y="522.85" font-size="14.7" text-anchor="middle">10</text>
<text x="591.5" y="522.85" font-size="14.7" text-anchor="start">11</text>
<text x="609" y="522.85" font-size="14.7" text-anchor="start">m&#179;/h</text>
<path d="M601.9 331.7 V350 H626.6 M601.9 346.5 H620.6 M601.9 334.6 Q617.5 336.2 622.8 350" stroke="#2a2a2a" stroke-width="1.5" fill="none"/>
</g>
<g id="chart3">
<polygon points="142.3,566.8 143.19,566.7 144.29,566.58 145.57,566.43 147,566.27 148.56,566.09 150.23,565.9 151.97,565.7 153.77,565.5 155.6,565.3 157.43,565.09 159.24,564.89 161,564.7 162.78,564.51 164.66,564.31 166.61,564.1 168.61,563.89 170.64,563.67 172.67,563.46 174.69,563.24 176.66,563.04 178.58,562.84 180.42,562.65 182.15,562.47 183.75,562.3 185.23,562.14 186.63,561.99 187.95,561.84 189.19,561.7 190.38,561.56 191.52,561.43 192.61,561.31 193.67,561.2 194.7,561.11 195.72,561.02 196.73,560.95 197.75,560.9 198.76,560.86 199.74,560.84 200.7,560.83 201.64,560.83 202.55,560.84 203.44,560.87 204.3,560.9 205.14,560.95 205.95,561 206.74,561.06 207.51,561.13 208.25,561.2 208.95,561.28 209.6,561.37 210.21,561.46 210.78,561.56 211.33,561.67 211.86,561.79 212.39,561.92 212.92,562.06 213.46,562.21 214.02,562.36 214.62,562.53 215.25,562.7 215.9,562.88 216.55,563.05 217.19,563.22 217.84,563.4 218.51,563.59 219.19,563.79 219.89,564.01 220.63,564.25 221.4,564.52 222.22,564.81 223.08,565.14 224,565.5 224.99,565.91 226.05,566.36 227.18,566.86 228.35,567.38 229.56,567.93 230.8,568.5 232.04,569.08 233.29,569.66 234.52,570.24 235.72,570.81 236.89,571.37 238,571.9 239.06,572.41 240.08,572.92 241.07,573.42 242.04,573.91 242.99,574.41 243.94,574.9 244.89,575.39 245.85,575.89 246.84,576.38 247.85,576.88 248.9,577.39 250,577.9 251.12,578.41 252.24,578.9 253.36,579.39 254.5,579.87 255.66,580.36 256.84,580.86 258.07,581.36 259.33,581.89 260.65,582.44 262.03,583.03 263.48,583.64 265,584.3 266.6,585 268.29,585.74 270.04,586.51 271.85,587.31 273.72,588.14 275.62,588.99 277.57,589.85 279.54,590.72 281.52,591.59 283.52,592.47 285.51,593.34 287.5,594.2 289.52,595.07 291.61,595.96 293.75,596.87 295.93,597.8 298.12,598.72 300.31,599.65 302.49,600.57 304.63,601.47 306.72,602.35 308.74,603.2 310.67,604.02 312.5,604.8 314.21,605.53 315.82,606.22 317.34,606.88 318.8,607.51 320.2,608.11 321.56,608.71 322.91,609.29 324.26,609.87 325.62,610.46 327.03,611.05 328.48,611.66 330,612.3 331.52,612.93 332.97,613.54 334.38,614.14 335.79,614.72 337.21,615.31 338.67,615.92 340.21,616.55 341.85,617.21 343.62,617.92 345.55,618.68 347.67,619.5 350,620.4 352.6,621.39 355.49,622.49 358.6,623.66 361.9,624.9 365.32,626.18 368.83,627.48 372.36,628.79 375.88,630.09 379.33,631.36 382.65,632.58 385.81,633.73 388.75,634.8 391.52,635.79 394.19,636.74 396.79,637.66 399.31,638.53 401.75,639.38 404.14,640.2 406.47,641 408.75,641.78 410.99,642.54 413.19,643.3 415.35,644.05 417.5,644.8 419.56,645.53 421.48,646.21 423.29,646.87 425.04,647.5 426.74,648.12 428.42,648.74 430.13,649.36 431.88,649.99 433.71,650.64 435.66,651.32 437.74,652.03 440,652.8 442.41,653.6 444.92,654.42 447.53,655.27 450.22,656.13 453,657.02 455.84,657.92 458.75,658.85 461.72,659.8 464.74,660.77 467.8,661.76 470.88,662.77 474,663.8 477.17,664.86 480.43,665.96 483.76,667.09 487.15,668.24 490.59,669.42 494.06,670.61 497.56,671.81 501.07,673.02 504.59,674.23 508.09,675.43 511.56,676.62 515,677.8 518.43,678.97 521.87,680.16 525.32,681.36 528.78,682.56 532.24,683.76 535.69,684.96 539.13,686.15 542.56,687.33 545.96,688.48 549.34,689.62 552.69,690.72 556,691.8 559.39,692.88 562.95,693.98 566.6,695.1 570.3,696.21 573.97,697.31 577.56,698.38 581.01,699.39 584.26,700.34 587.24,701.21 589.9,701.99 592.17,702.66 594,703.2 575,704.4 540,705.4 501,706.2 460,709 420,712.6 370,716.8 323.75,720.8 321.12,720.46 317.8,720.03 313.89,719.52 309.49,718.94 304.72,718.31 299.69,717.66 294.5,716.99 289.26,716.33 284.08,715.68 279.07,715.08 274.34,714.53 270,714.05 265.94,713.63 261.96,713.23 258.08,712.85 254.26,712.5 250.5,712.17 246.8,711.86 243.13,711.57 239.49,711.29 235.87,711.03 232.25,710.77 228.63,710.53 225,710.3 221.36,710.08 217.75,709.86 214.15,709.66 210.56,709.47 207,709.29 203.45,709.13 199.92,708.98 196.4,708.86 192.9,708.75 189.42,708.66 185.95,708.59 182.5,708.55 178.94,708.54 175.2,708.57 171.35,708.63 167.44,708.72 163.55,708.82 159.74,708.94 156.08,709.06 152.64,709.19 149.47,709.31 146.65,709.41 144.24,709.49 142.3,709.55" fill="#e0e0e0"/>
<polygon points="501,695.4 567.5,695.4 594,703.2 575,704.4 540,705.4 501,706.2" fill="#ebebeb"/>
<path d="M183.73 543.2 V725 M225.16 543.2 V725 M266.59 543.2 V725 M308.02 543.2 V725 M349.45 543.2 V725 M390.88 543.2 V725 M432.31 543.2 V725 M473.74 543.2 V725 M515.17 543.2 V725 M556.6 543.2 V725 M598.03 588.55 V725 M142.3 695.16 H639 M142.3 664.72 H639 M142.3 634.28 H639 M142.3 603.84 H639 M142.3 573.4 H556.6" stroke="#2a2a2a" stroke-width="1.45" fill="none"/>
<polyline points="175.5,684.18 179.5,673.6 183.5,661.81 187.5,648.83 191.5,634.64 195.5,619.25 199.5,602.65 203.5,584.86 207.5,565.86 211.5,545.65 211.87,543.7" stroke="#3a3a3a" stroke-width="1.25" fill="none"/>
<polyline points="178.75,712.98 182.75,710.06 186.75,706.84 190.75,703.31 194.75,699.48 198.75,695.34 202.75,690.9 206.75,686.15 210.75,681.11 214.75,675.75 218.75,670.1 222.75,664.14 226.75,657.87 230.75,651.31 234.75,644.43 238.75,637.26 242.75,629.78 246.75,622 250.75,613.91 254.75,605.52 258.75,596.82 262.75,587.82 266.75,578.52 270.75,568.92 274.75,559.01 278.75,548.79 280.7,543.7" stroke="#3a3a3a" stroke-width="1.25" fill="none"/>
<polyline points="195.5,713.98 199.5,712.16 203.5,710.22 207.5,708.14 211.5,705.93 215.5,703.59 219.5,701.12 223.5,698.52 227.5,695.78 231.5,692.92 235.5,689.92 239.5,686.79 243.5,683.54 247.5,680.14 251.5,676.62 255.5,672.97 259.5,669.18 263.5,665.27 267.5,661.22 271.5,657.04 275.5,652.73 279.5,648.28 283.5,643.71 287.5,639.01 291.5,634.17 295.5,629.2 299.5,624.1 303.5,618.87 307.5,613.51 311.5,608.01 315.5,602.39 319.5,596.63 323.5,590.74 327.5,584.72 331.5,578.57 335.5,572.29 339.5,565.87 343.5,559.33 347.5,552.65 351.5,545.84 352.74,543.7" stroke="#3a3a3a" stroke-width="1.25" fill="none"/>
<polyline points="212,714.96 216,713.7 220,712.37 224,710.98 228,709.51 232,707.97 236,706.37 240,704.69 244,702.94 248,701.13 252,699.24 256,697.28 260,695.25 264,693.16 268,690.99 272,688.75 276,686.44 280,684.06 284,681.62 288,679.1 292,676.51 296,673.85 300,671.12 304,668.32 308,665.45 312,662.52 316,659.51 320,656.43 324,653.28 328,650.06 332,646.77 336,643.41 340,639.98 344,636.48 348,632.91 352,629.27 356,625.56 360,621.78 364,617.93 368,614.01 372,610.02 376,605.96 380,601.83 384,597.63 388,593.36 392,589.02 396,584.61 400,580.13 404,575.57 408,570.95 412,566.26 416,561.5 420,556.67 424,551.77 428,546.8 430.46,543.7" stroke="#3a3a3a" stroke-width="1.25" fill="none"/>
<polyline points="229,716.23 233,715.34 237,714.42 241,713.45 245,712.45 249,711.41 253,710.32 257,709.2 261,708.03 265,706.83 269,705.59 273,704.3 277,702.98 281,701.62 285,700.21 289,698.77 293,697.29 297,695.76 301,694.2 305,692.6 309,690.95 313,689.27 317,687.55 321,685.79 325,683.98 329,682.14 333,680.26 337,678.34 341,676.38 345,674.37 349,672.33 353,670.25 357,668.13 361,665.97 365,663.77 369,661.53 373,659.24 377,656.92 381,654.56 385,652.16 389,649.72 393,647.24 397,644.72 401,642.16 405,639.56 409,636.92 413,634.24 417,631.52 421,628.76 425,625.96 429,623.12 433,620.24 437,617.32 441,614.36 445,611.36 449,608.32 453,605.24 457,602.13 461,598.97 465,595.77 469,592.53 473,589.25 477,585.93 481,582.57 485,579.18 489,575.74 493,572.26 497,568.74 501,565.18 505,561.59 509,557.95 513,554.27 517,550.55 521,546.8 524.27,543.7" stroke="#3a3a3a" stroke-width="1.25" fill="none"/>
<polyline points="248.5,717.91 252.5,717.32 256.5,716.71 260.5,716.08 264.5,715.42 268.5,714.74 272.5,714.04 276.5,713.32 280.5,712.58 284.5,711.82 288.5,711.03 292.5,710.22 296.5,709.39 300.5,708.54 304.5,707.67 308.5,706.77 312.5,705.85 316.5,704.92 320.5,703.95 324.5,702.97 328.5,701.97 332.5,700.94 336.5,699.89 340.5,698.82 344.5,697.73 348.5,696.62 352.5,695.48 356.5,694.33 360.5,693.15 364.5,691.95 368.5,690.72 372.5,689.48 376.5,688.21 380.5,686.92 384.5,685.61 388.5,684.28 392.5,682.93 396.5,681.55 400.5,680.16 404.5,678.74 408.5,677.3 412.5,675.83 416.5,674.35 420.5,672.84 424.5,671.32 428.5,669.77 432.5,668.19 436.5,666.6 440.5,664.99 444.5,663.35 448.5,661.69 452.5,660.01 456.5,658.31 460.5,656.58 464.5,654.84 468.5,653.07 472.5,651.28 476.5,649.47 480.5,647.63 484.5,645.78 488.5,643.9 492.5,642 496.5,640.08 500.5,638.14 504.5,636.18 508.5,634.19 512.5,632.18 516.5,630.15 520.5,628.1 524.5,626.03 528.5,623.93 532.5,621.82 536.5,619.68 540.5,617.52 544.5,615.33 548.5,613.13 552.5,610.9 556.5,608.66 560.5,606.39 564.5,604.1 568.5,601.78 572.5,599.45 576.5,597.09 580.5,594.71 584.5,592.31 588.5,589.89 590,588.97" stroke="#3a3a3a" stroke-width="1.25" fill="none"/>
<polyline points="259,720.13 263,719.75 267,719.36 271,718.95 275,718.53 279,718.1 283,717.65 287,717.2 291,716.72 295,716.24 299,715.74 303,715.23 307,714.71 311,714.18 315,713.63 319,713.07 323,712.49 327,711.91 331,711.31 335,710.69 339,710.07 343,709.43 347,708.78 351,708.12 355,707.44 359,706.75 363,706.05 367,705.33 371,704.6 375,703.86 379,703.11 383,702.34 387,701.56 391,700.77 395,699.97 399,699.15 403,698.32 407,697.47 411,696.62 415,695.75 419,694.87 423,693.97 427,693.06 431,692.14 435,691.21 439,690.26 443,689.3 447,688.33 451,687.35 455,686.35 459,685.34 463,684.32 467,683.28 471,682.23 475,681.17 479,680.09 483,679.01 487,677.91 491,676.79 495,675.67 499,674.53 503,673.37 507,672.21 511,671.03 515,669.84 519,668.64 523,667.42 527,666.19 531,664.95 535,663.7 539,662.43 543,661.15 547,659.86 551,658.55 555,657.23 559,655.9 563,654.55 567,653.2 571,651.83 575,650.44 579,649.05 583,647.64 587,646.22 591,644.78 595,643.34 599,641.88 603,640.4 607,638.92 611,637.42 615,635.91 619,634.38 623,632.84 627,631.29 631,629.73 635,628.16 639,626.57" stroke="#3a3a3a" stroke-width="1.25" fill="none"/>
<polyline points="284.5,721.77 288.5,721.55 292.5,721.33 296.5,721.1 300.5,720.86 304.5,720.62 308.5,720.37 312.5,720.12 316.5,719.85 320.5,719.59 324.5,719.31 328.5,719.04 332.5,718.75 336.5,718.46 340.5,718.16 344.5,717.86 348.5,717.55 352.5,717.23 356.5,716.91 360.5,716.59 364.5,716.25 368.5,715.91 372.5,715.57 376.5,715.21 380.5,714.86 384.5,714.49 388.5,714.12 392.5,713.75 396.5,713.36 400.5,712.98 404.5,712.58 408.5,712.18 412.5,711.78 416.5,711.36 420.5,710.95 424.5,710.52 428.5,710.09 432.5,709.65 436.5,709.21 440.5,708.76 444.5,708.31 448.5,707.85 452.5,707.38 456.5,706.91 460.5,706.43 464.5,705.94 468.5,705.45 472.5,704.96 476.5,704.45 480.5,703.94 484.5,703.43 488.5,702.91 492.5,702.38 496.5,701.85 500.5,701.31 504.5,700.76 508.5,700.21 512.5,699.65 516.5,699.09 520.5,698.52 524.5,697.94 528.5,697.36 532.5,696.77 536.5,696.18 540.5,695.58 544.5,694.97 548.5,694.36 552.5,693.74 556.5,693.12 560.5,692.49 564.5,691.85 568.5,691.21 572.5,690.56 576.5,689.9 580.5,689.24 584.5,688.58 588.5,687.9 592.5,687.22 596.5,686.54 600.5,685.85 604.5,685.15 608.5,684.45 612.5,683.74 616.5,683.02 620.5,682.3 624.5,681.57 628.5,680.84 632.5,680.1 636.5,679.36 639,678.89" stroke="#3a3a3a" stroke-width="1.25" fill="none"/>
<path d="M183.75 562.3 C186.08 563.03 193.38 565.24 197.75 566.7 C202.12 568.16 205.62 569.43 210 571.05 C214.38 572.67 220.67 575.04 224 576.4 C227.33 577.76 227.67 577.98 230 579.2 C232.33 580.42 234.46 581.73 238 583.7 C241.54 585.68 246.33 587.85 251.25 591.05 C256.17 594.25 260.62 598.94 267.5 602.9 C274.38 606.86 285.83 611.67 292.5 614.8 C299.17 617.93 301.25 619.2 307.5 621.7 C313.75 624.2 323.75 627.62 330 629.8 C336.25 631.98 335.5 631.47 345 634.8 C354.5 638.13 372.83 644.8 387 649.8 C401.17 654.8 416.17 659.8 430 664.8 C443.83 669.8 457 675.3 470 679.8 C483 684.3 495.28 687.93 508 691.8 C520.72 695.67 539.92 701.13 546.3 703" stroke="#1a1a1a" stroke-width="1.6" fill="none" stroke-dasharray="20 4 28 4 16 4"/>
<rect x="159" y="570" width="15" height="13.5" fill="#e0e0e0"/>
<rect x="160" y="610" width="13" height="13" fill="#e0e0e0"/>
<rect x="160" y="648" width="13" height="12.5" fill="#e0e0e0"/>
<rect x="160" y="671" width="13" height="12.5" fill="#e0e0e0"/>
<rect x="158" y="692.5" width="16" height="15.5" fill="#e0e0e0"/>
<path d="M142.3 586.75 C149 586.38 168.72 585 182.5 584.5 C196.28 584 211.25 583.42 225 583.75 C238.75 584.08 258.33 586.04 265 586.5" stroke="#0a0a0a" fill="none" stroke-linecap="butt" stroke-width="2.4"/>
<path d="M142.3 625 C149 624.67 168.72 623.42 182.5 623 C196.28 622.58 210.42 621.96 225 622.5 C239.58 623.04 252.5 624.67 270 626.25 C287.5 627.83 316.67 630.44 330 632 C343.33 633.56 340 633.87 350 635.6 C360 637.33 378.33 640.17 390 642.4 C401.67 644.63 412.67 647.33 420 649 C427.33 650.67 428.67 650.97 434 652.4 C439.33 653.83 449 656.73 452 657.6" stroke="#0a0a0a" fill="none" stroke-linecap="butt" stroke-width="2.4"/>
<path d="M142.3 663.75 C149 663.33 168.72 661.79 182.5 661.25 C196.28 660.71 210.42 660.29 225 660.5 C239.58 660.71 249.17 660.71 270 662.5 C290.83 664.29 323.33 667.29 350 671.25 C376.67 675.21 410 681.88 430 686.25 C450 690.62 458.17 694.04 470 697.5 C481.83 700.96 495.83 705.42 501 707" stroke="#0a0a0a" fill="none" stroke-linecap="butt" stroke-width="2.4"/>
<path d="M142.3 686.25 C149 685.92 168.72 684.58 182.5 684.25 C196.28 683.92 210.42 683.71 225 684.25 C239.58 684.79 249.17 685.29 270 687.5 C290.83 689.71 325 693.33 350 697.5 C375 701.67 408.33 710 420 712.5" stroke="#0a0a0a" fill="none" stroke-linecap="butt" stroke-width="2.4"/>
<path d="M142.3 709.25 C149 709.08 168.72 708.12 182.5 708.25 C196.28 708.38 210.42 709.08 225 710 C239.58 710.92 253.54 712 270 713.75 C286.46 715.5 314.79 719.38 323.75 720.5" stroke="#0a0a0a" fill="none" stroke-linecap="butt" stroke-width="2.4"/>
<g transform="translate(318,606.4) rotate(22)"><rect x="0" y="-17" width="41" height="17.5" fill="#fff"/></g>
<path d="M142.3 566.8 C145.42 566.45 154.09 565.45 161 564.7 C167.91 563.95 177.62 562.93 183.75 562.3 C189.88 561.67 193.67 561.08 197.75 560.9 C201.83 560.72 205.33 560.9 208.25 561.2 C211.17 561.5 212.62 561.98 215.25 562.7 C217.88 563.42 220.21 563.97 224 565.5 C227.79 567.03 233.67 569.83 238 571.9 C242.33 573.97 245.5 575.83 250 577.9 C254.5 579.97 258.75 581.58 265 584.3 C271.25 587.02 279.58 590.78 287.5 594.2 C295.42 597.62 305.42 601.78 312.5 604.8 C319.58 607.82 323.75 609.7 330 612.3 C336.25 614.9 340.21 616.65 350 620.4 C359.79 624.15 377.5 630.73 388.75 634.8 C400 638.87 408.96 641.8 417.5 644.8 C426.04 647.8 430.58 649.63 440 652.8 C449.42 655.97 461.5 659.63 474 663.8 C486.5 667.97 501.33 673.13 515 677.8 C528.67 682.47 542.83 687.57 556 691.8 C569.17 696.03 587.67 701.3 594 703.2" stroke="#0a0a0a" fill="none" stroke-linecap="butt" stroke-width="2.7"/>
<g transform="translate(320.5,605.5) rotate(20)"><text x="0" y="0" font-size="13" text-anchor="start" stroke="#333" stroke-width="0.25">6 max</text></g>
<text x="166.6" y="581" font-size="12" text-anchor="middle" fill="#2a2a2a" stroke="#2a2a2a" stroke-width="0.5">5</text>
<text x="166.6" y="620.6" font-size="12" text-anchor="middle" fill="#2a2a2a" stroke="#2a2a2a" stroke-width="0.5">4</text>
<text x="166.6" y="658.2" font-size="12" text-anchor="middle" fill="#2a2a2a" stroke="#2a2a2a" stroke-width="0.5">3</text>
<text x="166.6" y="681.2" font-size="12" text-anchor="middle" fill="#2a2a2a" stroke="#2a2a2a" stroke-width="0.5">2</text>
<text x="167" y="705.4" font-size="12" text-anchor="middle" fill="#2a2a2a" stroke="#2a2a2a" stroke-width="0.5">1</text>
<path d="M142.3 543.2 H639 V725 H142.3 Z" stroke="#0a0a0a" stroke-width="2.4" fill="none"/>
<path d="M137.8 543.2 H142.3 M137.8 725.6 H142.3 M137.8 695.16 H142.3 M137.8 664.72 H142.3 M137.8 634.28 H142.3 M137.8 603.84 H142.3 M137.8 573.4 H142.3 M639 545.2 H644.5 M639 725.6 H644.5 M639 695.75 H644.5 M639 665.89 H644.5 M639 636.04 H644.5 M639 606.19 H644.5 M639 576.34 H644.5 M142.3 725 V730 M183.73 725 V730 M225.16 725 V730 M266.59 725 V730 M308.02 725 V730 M349.45 725 V730 M390.88 725 V730 M432.31 725 V730 M473.74 725 V730 M515.17 725 V730 M556.6 725 V730 M598.03 725 V730 M639.46 725 V730" stroke="#0a0a0a" stroke-width="1.8" fill="none"/>
<text x="132.3" y="553.1" font-size="14.7" text-anchor="end">H [kPa]</text>
<text x="133" y="700.56" font-size="14.7" text-anchor="end">20</text>
<text x="133" y="670.12" font-size="14.7" text-anchor="end">40</text>
<text x="133" y="639.68" font-size="14.7" text-anchor="end">60</text>
<text x="133" y="609.24" font-size="14.7" text-anchor="end">80</text>
<text x="133" y="578.8" font-size="14.7" text-anchor="end">100</text>
<text x="133" y="723.5" font-size="14.7" text-anchor="end">0</text>
<text x="647" y="551.2" font-size="14.7" text-anchor="start">H [m]</text>
<text x="647" y="701.95" font-size="14.7" text-anchor="start">2</text>
<text x="647" y="670.89" font-size="14.7" text-anchor="start">4</text>
<text x="647" y="641.04" font-size="14.7" text-anchor="start">6</text>
<text x="647" y="611.19" font-size="14.7" text-anchor="start">8</text>
<text x="647" y="581.34" font-size="14.7" text-anchor="start">10</text>
<text x="647" y="723.8" font-size="14.7" text-anchor="start">0</text>
<text x="142.3" y="743.1" font-size="14.7" text-anchor="middle">0</text>
<text x="183.73" y="743.1" font-size="14.7" text-anchor="middle">1</text>
<text x="225.16" y="743.1" font-size="14.7" text-anchor="middle">2</text>
<text x="266.59" y="743.1" font-size="14.7" text-anchor="middle">3</text>
<text x="308.02" y="743.1" font-size="14.7" text-anchor="middle">4</text>
<text x="349.45" y="743.1" font-size="14.7" text-anchor="middle">5</text>
<text x="390.88" y="743.1" font-size="14.7" text-anchor="middle">6</text>
<text x="432.31" y="743.1" font-size="14.7" text-anchor="middle">7</text>
<text x="473.74" y="743.1" font-size="14.7" text-anchor="middle">8</text>
<text x="515.17" y="743.1" font-size="14.7" text-anchor="middle">9</text>
<text x="556.6" y="743.1" font-size="14.7" text-anchor="middle">10</text>
<text x="591.5" y="743.1" font-size="14.7" text-anchor="start">11</text>
<text x="609" y="743.1" font-size="14.7" text-anchor="start">m&#179;/h</text>
<path d="M601.9 552.1 V570.6 H626.3 M601.9 555.3 Q616 557.6 622.8 570.6 M601.9 559.4 Q612.5 561.1 617.2 570.6 M601.9 563.7 Q608.5 564.8 611.3 570.6" stroke="#2a2a2a" stroke-width="1.5" fill="none"/>
</g>
</g>
<rect x="0" y="0" width="800" height="756" fill="none"/>
<line x1="0" y1="756.7" x2="800" y2="756.7" stroke="#a6aeca" stroke-width="2"/>
<path d="M397.3 756.8 Q400 753.6 402.7 756.8" stroke="#222" stroke-width="1.4" fill="none"/>
</svg>
</body></html>
